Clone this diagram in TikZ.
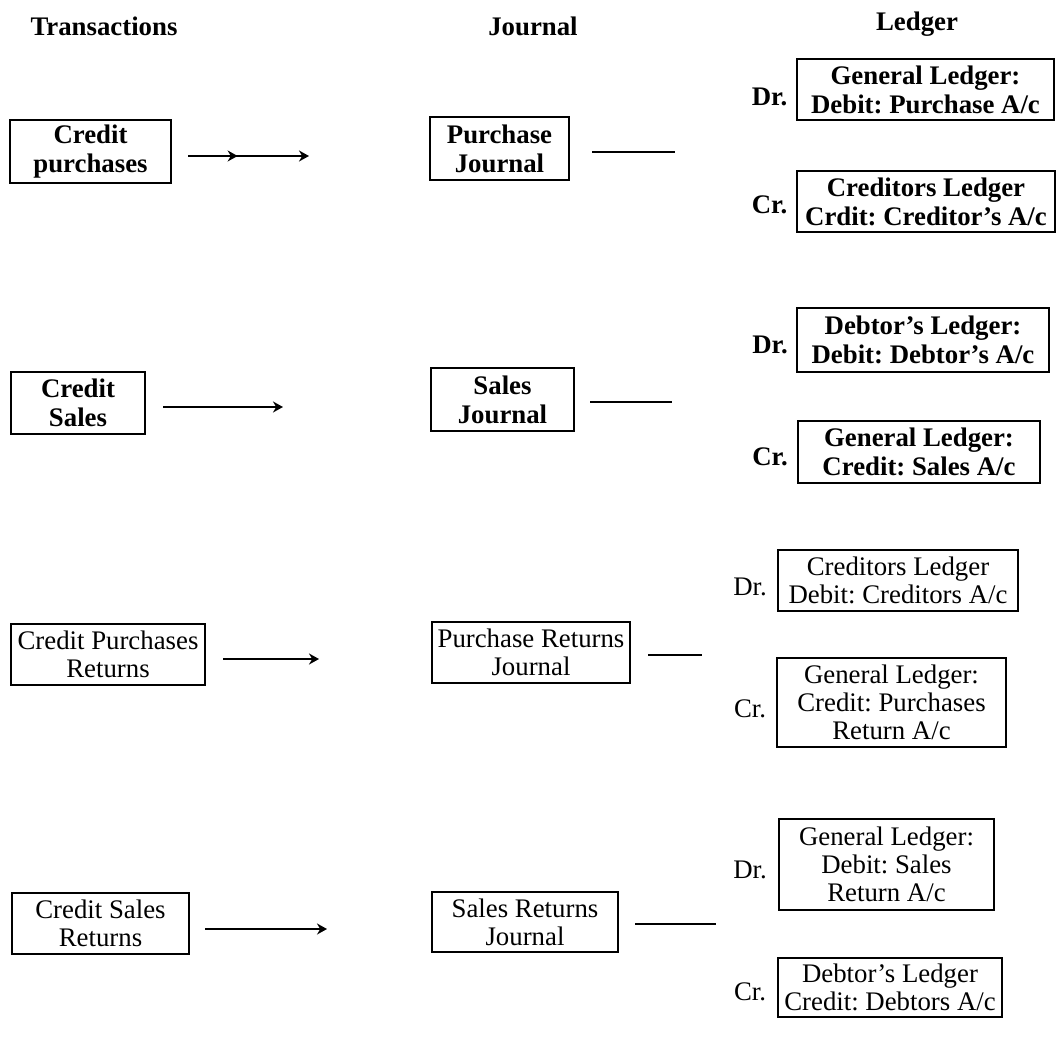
\documentclass[tikz,border=0pt]{standalone}
\usepackage{fontspec}
\setmainfont{Liberation Serif}
\usetikzlibrary{arrows.meta,decorations.markings}
\begin{document}
\frenchspacing
\begin{tikzpicture}[x=0.5pt,y=-0.5pt,
  basebox/.style={draw, inner sep=0pt, align=center},
  bbox/.style={basebox, line width=1.4pt, font=\fontsize{13.4}{14.5}\selectfont\bfseries},
  rbox/.style={basebox, line width=1.2pt, font=\fontsize{13.4}{14}\selectfont},
  blabel/.style={inner sep=0pt, font=\fontsize{13.4}{14.5}\selectfont\bfseries},
  rlabel/.style={inner sep=0pt, font=\fontsize{13.4}{14}\selectfont},
  flow/.style={line width=1.4pt, -{Stealth[length=5pt,width=5.5pt]}},
  stub/.style={line width=1.3pt},
  midhead/.style={postaction={decorate}, decoration={markings, mark=at position 0.41 with {\arrow{Stealth[length=5pt,width=5.5pt]}}}}
]
\useasboundingbox (0,0) rectangle (1059,1048);

% headings
\node[blabel] (h1) at (104,26) {Transactions};
\node[blabel] (h2) at (533,26) {Journal};
\node[blabel] (h3) at (917,24) {Ledger};

% row 1
\node[bbox, minimum width=80.5pt, minimum height=31.5pt] (cp) at (90.5,151.5) {Credit\\purchases};
\node[bbox, minimum width=69.5pt, minimum height=31.5pt] (pj) at (499.5,148.5) {Purchase\\Journal};
\node[bbox, minimum width=128.5pt, minimum height=30.5pt] (gl1) at (925.5,89.5) {General Ledger:\\Debit: Purchase A/c};
\node[bbox, minimum width=129pt, minimum height=30.5pt] (cl1) at (926,201.5) {Creditors Ledger\\Crdit: Creditor's A/c};
\node[blabel] (dr1) at (769.5,97) {Dr.};
\node[blabel] (cr1) at (769.5,205) {Cr.};
\coordinate (a1s) at (188,156);
\coordinate (a1e) at (309,156);
\draw[flow, midhead] (a1s) -- (a1e);
\coordinate (l1s) at (592,152);
\coordinate (l1e) at (675,152);
\draw[stub] (l1s) -- (l1e);

% row 2
\node[bbox, minimum width=67pt, minimum height=31pt] (cs) at (78,403) {Credit\\Sales};
\node[bbox, minimum width=71.5pt, minimum height=31.5pt] (sj) at (502.5,399.5) {Sales\\Journal};
\node[bbox, minimum width=126pt, minimum height=32pt] (dl) at (923,340) {Debtor's Ledger:\\Debit: Debtor's A/c};
\node[bbox, minimum width=121pt, minimum height=31pt] (gl2) at (919,452) {General Ledger:\\Credit: Sales A/c};
\node[blabel] (dr2) at (770,345) {Dr.};
\node[blabel] (cr2) at (770,457) {Cr.};
\coordinate (a2s) at (163,407);
\coordinate (a2e) at (283,407);
\draw[flow] (a2s) -- (a2e);
\coordinate (l2s) at (590,402);
\coordinate (l2e) at (672,402);
\draw[stub] (l2s) -- (l2e);

% row 3
\node[rbox, minimum width=97pt, minimum height=30.5pt] (cpr) at (108,654.5) {Credit Purchases\\Returns};
\node[rbox, minimum width=99pt, minimum height=30.5pt] (prj) at (531,652.5) {Purchase Returns\\Journal};
\node[rbox, minimum width=120pt, minimum height=30.5pt] (crl) at (898,580.5) {Creditors Ledger\\Debit: Creditors A/c};
\node[rbox, minimum width=114.5pt, minimum height=44.5pt] (glp) at (891.5,702.5) {General Ledger:\\Credit: Purchases\\Return A/c};
\node[rlabel] (dr3) at (750,587) {Dr.};
\node[rlabel] (cr3) at (750,709) {Cr.};
\coordinate (a3s) at (223,659);
\coordinate (a3e) at (319,659);
\draw[flow] (a3s) -- (a3e);
\coordinate (l3s) at (648,655);
\coordinate (l3e) at (702,655);
\draw[stub] (l3s) -- (l3e);

% row 4
\node[rbox, minimum width=88.5pt, minimum height=30.5pt] (csr) at (100.5,923.5) {Credit Sales\\Returns};
\node[rbox, minimum width=93pt, minimum height=30pt] (srj) at (525,922) {Sales Returns\\Journal};
\node[rbox, minimum width=107.5pt, minimum height=45.5pt] (gls) at (886.5,864.5) {General Ledger:\\Debit: Sales\\Return A/c};
\node[rbox, minimum width=112pt, minimum height=29.5pt] (dlc) at (890,987.5) {Debtor's Ledger\\Credit: Debtors A/c};
\node[rlabel] (dr4) at (750,870) {Dr.};
\node[rlabel] (cr4) at (750,992) {Cr.};
\coordinate (a4s) at (205,929);
\coordinate (a4e) at (327,929);
\draw[flow] (a4s) -- (a4e);
\coordinate (l4s) at (635,924);
\coordinate (l4e) at (716,924);
\draw[stub] (l4s) -- (l4e);
\end{tikzpicture}
\end{document}
